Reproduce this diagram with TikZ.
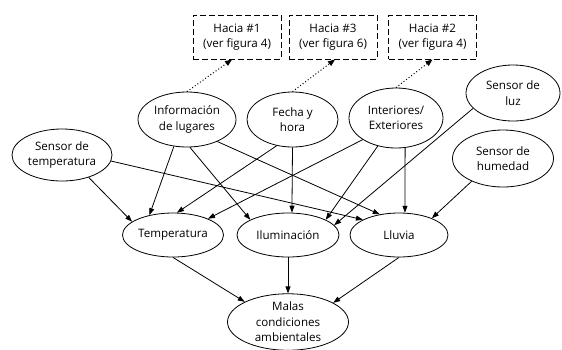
\documentclass[tikz,border=0pt]{standalone}
\usepackage{fontspec}
\setmainfont{Open Sans}
\usetikzlibrary{arrows.meta,shapes.geometric}
\begin{document}
\begin{tikzpicture}[x=1pt,y=-1pt,
  every node/.style={font=\fontsize{11.6}{15.5}\selectfont, align=center, inner sep=0pt},
  ell/.style={draw, ellipse, line width=0.8pt},
  hbox/.style={draw, rectangle, line width=1pt, dash pattern=on 6pt off 3pt, minimum width=88pt, minimum height=44pt},
  arr/.style={line width=0.8pt, -{Triangle[length=7pt,width=5pt]}},
  dotarr/.style={line width=1pt, dash pattern=on 1pt off 2.2pt, -{Triangle[length=7pt,width=5.5pt]}}
]
\useasboundingbox (0,0) rectangle (562,349);
% boxes
\node[hbox] (h1) at (237,37) {Hacia \#1\\(ver figura 4)};
\node[hbox] (h3) at (333,37) {Hacia \#3\\(ver figura 6)};
\node[hbox] (h2) at (432.5,37) {Hacia \#2\\(ver figura 4)};
% top ellipses
\node[ell, minimum width=98pt, minimum height=55pt] (info) at (187,119.5) {Información\\de lugares};
\node[ell, minimum width=91pt, minimum height=55pt] (fecha) at (292.5,119.5) {Fecha y\\hora};
\node[ell, minimum width=94pt, minimum height=60pt] (inter) at (396,118) {Interiores/\\Exteriores};
\node[ell, minimum width=94pt, minimum height=56pt] (luz) at (513,93) {Sensor de\\luz};
\node[ell, minimum width=101pt, minimum height=57pt] (hum) at (503,158.5) {Sensor de\\humedad};
\node[ell, minimum width=100pt, minimum height=52pt] (stemp) at (62,155) {Sensor de\\temperatura};
% middle
\node[ell, minimum width=101pt, minimum height=44pt] (temp) at (173,235) {Temperatura};
\node[ell, minimum width=102pt, minimum height=44pt] (ilum) at (288,235) {Iluminación};
\node[ell, minimum width=98pt, minimum height=44pt] (lluvia) at (399,235) {Lluvia};
% bottom
\node[ell, minimum width=121pt, minimum height=54pt] (malas) at (288,322) {Malas\\condiciones\\ambientales};
% dotted
\draw[dotarr] (info.north) -- ([xshift=-5pt]h1.south);
\draw[dotarr] (fecha.north) -- ([xshift=2pt]h3.south);
\draw[dotarr] (inter.north) -- (h2.south);
% edges
\draw[arr] (stemp.-40) -- (temp.162);
\draw[arr] (stemp.-7) -- (lluvia.157);
\draw[arr] (info.-116) -- (temp.140);
\draw[arr] (info.-84) -- (ilum.158);
\draw[arr] (info.-36) -- (lluvia.133);
\draw[arr] (fecha.-121) -- (temp.80);
\draw[arr] (fecha.south) -- (ilum.80);
\draw[arr] (inter.-147) -- (temp.25);
\draw[arr] (inter.-123) -- (ilum.22);
\draw[arr] (inter.-73) -- (lluvia.75);
\draw[arr] (luz.-159) -- (ilum.12);
\draw[arr] (hum.-144) -- (lluvia.27);
\draw[arr] (temp.south) -- (malas.155);
\draw[arr] (ilum.south) -- (malas.north);
\draw[arr] (lluvia.south) -- (malas.23);
\end{tikzpicture}
\end{document}
